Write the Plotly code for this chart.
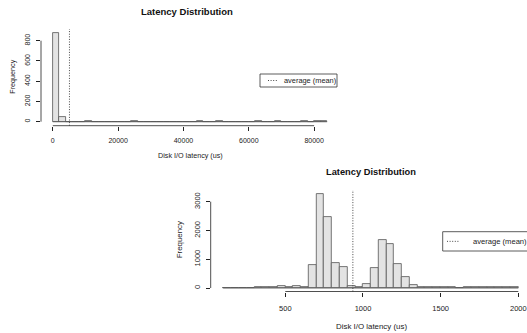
import plotly.graph_objects as go

W, H = 527, 333

# ---------------- data ----------------
# Top histogram: Disk I/O latency (us), bins of 2000 us starting at 0
top_bin_start = 0
top_bin_width = 2000
top_counts = [879, 46, 2, 1, 2, 5, 1, 0, 1, 0, 1, 1, 4, 1, 0, 1, 1, 0, 1, 0, 1,
              1, 5, 2, 0, 3, 2, 1, 0, 2, 1, 8, 1, 0, 7, 1, 0, 2, 3, 2, 4, 4]
top_mean = 5100
top_xticks = [0, 20000, 40000, 60000, 80000]
top_yticks = [0, 200, 400, 600, 800]

# Bottom histogram: bins of 50 us starting at 100
bot_bin_start = 100
bot_bin_width = 50
bot_counts = [15, 10, 5, 15, 25, 30, 35, 65, 25, 60, 40, 800, 3260, 2480, 870, 720,
              60, 40, 140, 700, 1660, 1540, 820, 380, 100, 40, 40, 35, 30, 30, 15,
              25, 30, 30, 30, 30, 20, 20]
bot_mean = 935
bot_xticks = [500, 1000, 1500, 2000]
bot_yticks = [0, 1000, 2000, 3000]

title_text = "Latency Distribution"
xlabel_text = "Disk I/O latency (us)"
ylabel_text = "Frequency"
legend_text = "average (mean)"

FONT = "Liberation Sans, Arial, Helvetica, sans-serif"
INK = "#222222"
BAR_FILL = "#e3e3e3"
BAR_EDGE = "#555555"
DOT = "1px,1.6px"


def px(x):
    return x / W


def py(y):
    return 1 - y / H


def centers(start, width, counts):
    return [start + width * (i + 0.5) for i in range(len(counts))]


# ---------------- layout geometry (pixels) ----------------
# top panel
t_left, t_right, t_top, t_bottom = 41, 337, 29, 125.7
t_x0px, t_xk = 52.8, 65.33 / 20000          # px of value 0, px per unit
t_y0px, t_yk = 121.7, 81.0 / 800
t_xrange = [(t_left - t_x0px) / t_xk, (t_right - t_x0px) / t_xk]
t_yrange = [-(t_bottom - t_y0px) / t_yk, (t_y0px - t_top) / t_yk]

# bottom panel
b_left, b_right, b_top, b_bottom = 210.7, 527, 190, 291.5
b_x0px, b_xk = 285.3 - 500 * (233.0 / 1500), 233.0 / 1500
b_y0px, b_yk = 288.0, 28.77 / 1000
b_xrange = [(b_left - b_x0px) / b_xk, (b_right - b_x0px) / b_xk]
b_yrange = [-(b_bottom - b_y0px) / b_yk, (b_y0px - b_top) / b_yk]

fig = go.Figure()

# ---------------- bars ----------------
fig.add_trace(go.Bar(
    x=centers(top_bin_start, top_bin_width, top_counts), y=top_counts,
    width=[top_bin_width] * len(top_counts),
    marker=dict(color=BAR_FILL, line=dict(color=BAR_EDGE, width=0.8)),
    xaxis="x", yaxis="y", showlegend=False, hoverinfo="x+y"))
fig.add_trace(go.Scatter(
    x=[top_bin_start, top_bin_start + top_bin_width * len(top_counts)], y=[0, 0],
    mode="lines", line=dict(color=BAR_EDGE, width=0.8),
    xaxis="x", yaxis="y", showlegend=False, hoverinfo="skip"))

fig.add_trace(go.Bar(
    x=centers(bot_bin_start, bot_bin_width, bot_counts), y=bot_counts,
    width=[bot_bin_width] * len(bot_counts),
    marker=dict(color=BAR_FILL, line=dict(color=BAR_EDGE, width=0.8)),
    xaxis="x2", yaxis="y2", showlegend=False, hoverinfo="x+y"))
fig.add_trace(go.Scatter(
    x=[bot_bin_start, bot_bin_start + bot_bin_width * len(bot_counts)], y=[0, 0],
    mode="lines", line=dict(color=BAR_EDGE, width=0.8),
    xaxis="x2", yaxis="y2", showlegend=False, hoverinfo="skip"))


def axis_common(size, ticks):
    return dict(showgrid=False, zeroline=False, showline=False, ticks="outside",
                ticklen=4, tickwidth=0.8, tickcolor=INK,
                tickvals=ticks, ticktext=[str(v) for v in ticks],
                tickfont=dict(family=FONT, size=size, color=INK), fixedrange=True)


fig.update_layout(
    width=W, height=H, autosize=False,
    margin=dict(l=0, r=0, t=0, b=0, pad=0),
    paper_bgcolor="white", plot_bgcolor="white",
    bargap=0, barmode="overlay",
    xaxis=dict(domain=[px(t_left), px(t_right)], range=t_xrange, anchor="y",
               ticklabelstandoff=4, **axis_common(7, top_xticks)),
    yaxis=dict(domain=[py(t_bottom), py(t_top)], range=t_yrange, anchor="x",
               tickangle=-90, ticklabelstandoff=3, **axis_common(7, top_yticks)),
    xaxis2=dict(domain=[px(b_left), 1.0], range=b_xrange, anchor="y2",
                ticklabelstandoff=5, **axis_common(7.5, bot_xticks)),
    yaxis2=dict(domain=[py(b_bottom), py(b_top)], range=b_yrange, anchor="x2",
                tickangle=-90, ticklabelstandoff=3, **axis_common(7.5, bot_yticks)),
)

shapes = []
annotations = []


def add_panel_decor(left, bottom, x0px, xk, y0px, yk, xticks, yticks, mean, xref, yref,
                    title_xy, xlabel_xy, ylabel_xy, fs_title, fs_lab, legend):
    # R-style axis lines spanning only from first to last tick
    shapes.append(dict(type="line", xref="paper", yref="paper",
                       x0=px(x0px + xticks[0] * xk), x1=px(x0px + xticks[-1] * xk),
                       y0=py(bottom), y1=py(bottom), line=dict(color=INK, width=0.8)))
    shapes.append(dict(type="line", xref="paper", yref="paper",
                       x0=px(left), x1=px(left),
                       y0=py(y0px - yticks[0] * yk), y1=py(y0px - yticks[-1] * yk),
                       line=dict(color=INK, width=0.8)))
    # mean line
    shapes.append(dict(type="line", xref=xref, yref=yref + " domain",
                       x0=mean, x1=mean, y0=0, y1=1,
                       line=dict(color="#333333", width=0.9, dash=DOT)))
    annotations.append(dict(text="<b>" + title_text + "</b>", xref="paper", yref="paper",
                            x=px(title_xy[0]), y=py(title_xy[1]), showarrow=False,
                            xanchor="center", yanchor="middle",
                            font=dict(family=FONT, size=fs_title, color="#111")))
    annotations.append(dict(text=xlabel_text, xref="paper", yref="paper",
                            x=px(xlabel_xy[0]), y=py(xlabel_xy[1]), showarrow=False,
                            xanchor="center", yanchor="middle",
                            font=dict(family=FONT, size=fs_lab, color=INK)))
    annotations.append(dict(text=ylabel_text, xref="paper", yref="paper",
                            x=px(ylabel_xy[0]), y=py(ylabel_xy[1]), showarrow=False,
                            textangle=-90, xanchor="center", yanchor="middle",
                            font=dict(family=FONT, size=fs_lab, color=INK)))
    # legend box
    (bx0, by0, bx1, by1, sx0, sx1, tx, fs_leg) = legend
    shapes.append(dict(type="rect", xref="paper", yref="paper",
                       x0=px(bx0), x1=px(bx1), y0=py(by1), y1=py(by0),
                       line=dict(color="#333333", width=0.8), fillcolor="white"))
    ymid = (by0 + by1) / 2
    shapes.append(dict(type="line", xref="paper", yref="paper",
                       x0=px(sx0), x1=px(sx1), y0=py(ymid), y1=py(ymid),
                       line=dict(color="#333333", width=0.9, dash=DOT)))
    annotations.append(dict(text=legend_text, xref="paper", yref="paper",
                            x=px(tx), y=py(ymid), showarrow=False,
                            xanchor="left", yanchor="middle",
                            font=dict(family=FONT, size=fs_leg, color=INK)))


add_panel_decor(t_left, t_bottom, t_x0px, t_xk, t_y0px, t_yk, top_xticks, top_yticks,
                top_mean, "x", "y", (187, 12), (190, 155.7), (11.7, 77), 9.5, 7.2,
                (260, 74, 337, 87, 268, 278, 282, 7.4))
add_panel_decor(b_left, b_bottom, b_x0px, b_xk, b_y0px, b_yk, bot_xticks, bot_yticks,
                bot_mean, "x2", "y2", (371, 171.7), (371.7, 326.5), (179.3, 240), 9.3, 7.9,
                (442.7, 231.7, 530, 251, 447, 460, 470.5, 7.6))

fig.update_layout(shapes=shapes, annotations=annotations)

fig.write_html("out.html", config={"displayModeBar": False},
               post_script="document.body.style.margin='0';document.body.style.padding='0';")
